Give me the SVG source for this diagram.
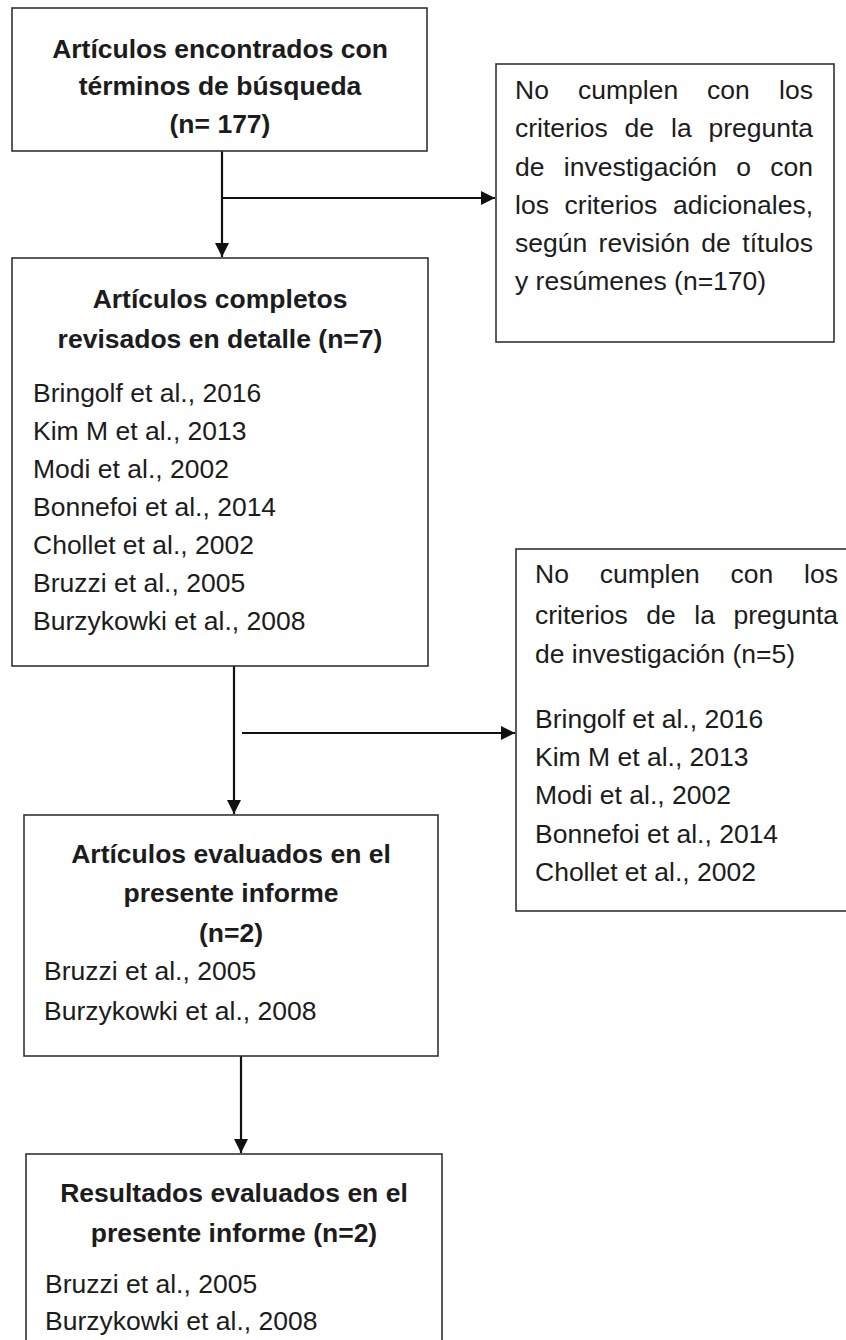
<svg xmlns="http://www.w3.org/2000/svg" width="846" height="1340" viewBox="0 0 846 1340">
<style>
.box{fill:#fff;stroke:#333;stroke-width:1.6}
.t{font-family:"Liberation Sans",Arial,sans-serif;font-size:26.5px;fill:#1c1c1c}
.b{font-weight:bold;text-anchor:middle}
.c{stroke:#111;stroke-width:2.2;fill:none}
</style>
<defs>
<marker id="ah" markerUnits="userSpaceOnUse" markerWidth="16" markerHeight="16" viewBox="0 0 16 16" refX="14" refY="8" orient="auto">
<path d="M0,1 L14,8 L0,15 Z" fill="#111"/>
</marker>
</defs>
<rect width="846" height="1340" fill="#fff"/>
<g id="connectors">
<line class="c" x1="222" y1="151" x2="222" y2="257" marker-end="url(#ah)"/>
<line class="c" x1="222" y1="198" x2="495" y2="198" marker-end="url(#ah)"/>
<line class="c" x1="234" y1="666" x2="234" y2="814" marker-end="url(#ah)"/>
<line class="c" x1="242" y1="733" x2="515" y2="733" marker-end="url(#ah)"/>
<line class="c" x1="241" y1="1056" x2="241" y2="1153" marker-end="url(#ah)"/>
</g>
<g id="n1">
<rect class="box" x="12" y="8" width="415" height="143"/>
<text class="t b" x="220" y="58">Artículos encontrados con</text>
<text class="t b" x="220" y="95">términos de búsqueda</text>
<text class="t b" x="220" y="133">(n= 177)</text>
</g>
<g id="n2">
<rect class="box" x="496" y="64" width="338" height="278"/>
<text class="t" y="99"><tspan x="515">No</tspan> <tspan x="578">cumplen</tspan> <tspan x="707">con</tspan> <tspan x="779">los</tspan></text>
<text class="t" y="137"><tspan x="515">criterios</tspan> <tspan x="624.6">de</tspan> <tspan x="671">la</tspan> <tspan x="708.4">pregunta</tspan></text>
<text class="t" y="176"><tspan x="515">de</tspan> <tspan x="563.8">investigación</tspan> <tspan x="736.3">o</tspan> <tspan x="770.3">con</tspan></text>
<text class="t" y="214"><tspan x="515">los</tspan> <tspan x="564.6">criterios</tspan> <tspan x="673.1">adicionales,</tspan></text>
<text class="t" y="252"><tspan x="515">según</tspan> <tspan x="598.6">revisión</tspan> <tspan x="701.3">de</tspan> <tspan x="742.3">títulos</tspan></text>
<text class="t" x="515" y="290">y resúmenes (n=170)</text>
</g>
<g id="n3">
<rect class="box" x="12" y="258" width="416" height="408"/>
<text class="t b" x="220" y="308">Artículos completos</text>
<text class="t b" x="220" y="348">revisados en detalle (n=7)</text>
<text class="t" x="33" y="402">Bringolf et al., 2016</text>
<text class="t" x="33" y="440">Kim M et al., 2013</text>
<text class="t" x="33" y="478">Modi et al., 2002</text>
<text class="t" x="33" y="516">Bonnefoi et al., 2014</text>
<text class="t" x="33" y="554">Chollet et al., 2002</text>
<text class="t" x="33" y="592">Bruzzi et al., 2005</text>
<text class="t" x="33" y="630">Burzykowki et al., 2008</text>
</g>
<g id="n4">
<rect class="box" x="516" y="549" width="340" height="362"/>
<text class="t" y="583"><tspan x="535">No</tspan> <tspan x="599.7">cumplen</tspan> <tspan x="730.6">con</tspan> <tspan x="804.1">los</tspan></text>
<text class="t" y="624"><tspan x="535">criterios</tspan> <tspan x="646.3">de</tspan> <tspan x="694.3">la</tspan> <tspan x="733.4">pregunta</tspan></text>
<text class="t" x="535" y="663">de investigación (n=5)</text>
<text class="t" x="535" y="728">Bringolf et al., 2016</text>
<text class="t" x="535" y="766">Kim M et al., 2013</text>
<text class="t" x="535" y="804">Modi et al., 2002</text>
<text class="t" x="535" y="843">Bonnefoi et al., 2014</text>
<text class="t" x="535" y="881">Chollet et al., 2002</text>
</g>
<g id="n5">
<rect class="box" x="24" y="815" width="414" height="241"/>
<text class="t b" x="231" y="863">Artículos evaluados en el</text>
<text class="t b" x="231" y="902">presente informe</text>
<text class="t b" x="231" y="942">(n=2)</text>
<text class="t" x="44" y="980">Bruzzi et al., 2005</text>
<text class="t" x="44" y="1020">Burzykowki et al., 2008</text>
</g>
<g id="n6">
<rect class="box" x="26" y="1154" width="416" height="210"/>
<text class="t b" x="234" y="1202">Resultados evaluados en el</text>
<text class="t b" x="234" y="1242">presente informe (n=2)</text>
<text class="t" x="45" y="1293">Bruzzi et al., 2005</text>
<text class="t" x="45" y="1330">Burzykowki et al., 2008</text>
</g>
</svg>
